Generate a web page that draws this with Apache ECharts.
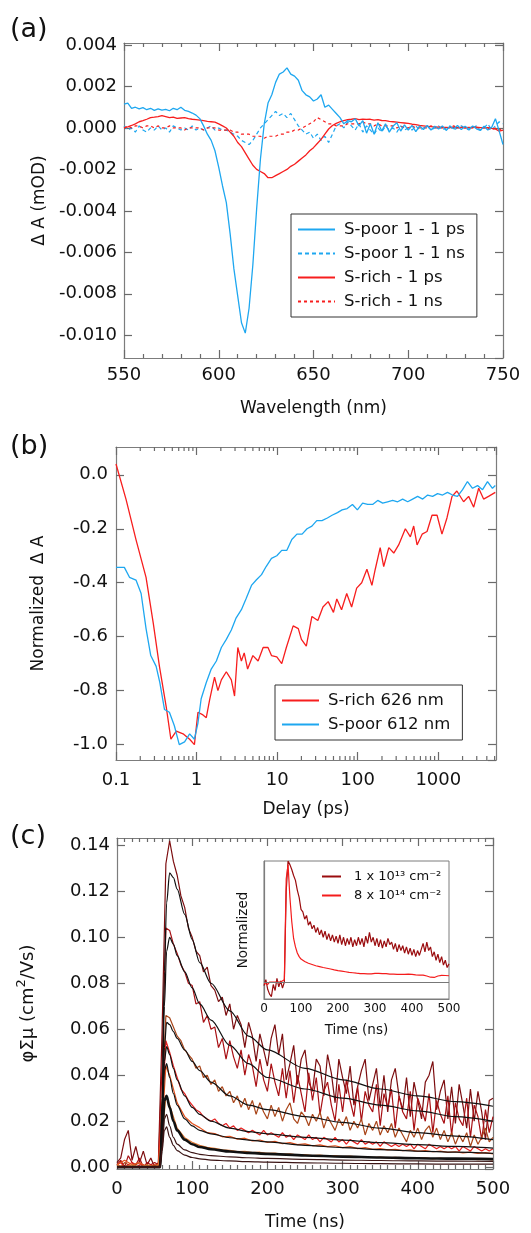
<!DOCTYPE html>
<html><head><meta charset="utf-8">
<script src="https://cdn.jsdelivr.net/npm/echarts@6/dist/echarts.min.js"></script>
<style>html,body{margin:0;padding:0;background:#fff}#chart{width:531px;height:1233px}</style>
</head><body><div id="chart"></div>
<script>
// ---------- Panel (a): transient spectra ----------
const wavelength = [550,552,554,556,558,560,562,564,566,568,
570,572,574,576,578,580,582,584,586,588,
590,592,594,596,598,600,602,604,606,608,
610,612,614,616,618,620,622,624,626,628,
630,632,634,636,638,640,642,644,646,648,
650,652,654,656,658,660,662,664,666,668,
670,672,674,676,678,680,682,684,686,688,
690,692,694,696,698,700,702,704,706,708,
710,712,714,716,718,720,722,724,726,728,
730,732,734,736,738,740,742,744,746,748,
750];
const sPoor1ps = [0.00115,0.00120,0.00095,0.00100,0.00092,0.00098,0.00088,0.00095,0.00085,0.00092,
0.00086,0.00090,0.00083,0.00095,0.00088,0.00100,0.00085,0.00080,0.00072,0.00062,
0.00045,0.00010,-0.00030,-0.00060,-0.00110,-0.00190,-0.00280,-0.00360,-0.00510,-0.00680,
-0.00810,-0.00940,-0.00990,-0.00870,-0.00660,-0.00390,-0.00150,0.00020,0.00120,0.00160,
0.00220,0.00260,0.00270,0.00290,0.00260,0.00250,0.00230,0.00180,0.00160,0.00150,
0.00130,0.00140,0.00160,0.00100,0.00110,0.00090,0.00070,0.00050,0.00020,0.00035,
0.00030,0.00045,0.00010,0.00035,-0.00025,0.00020,-0.00030,0.00025,-0.00015,0.00020,
-0.00020,0.00010,0.00025,-0.00015,0.00015,-0.00010,0.00012,-0.00018,0.00010,-0.00008,
0.00012,-0.00010,0.00008,-0.00005,0.00010,-0.00012,0.00008,-0.00004,0.00012,-0.00008,
0.00008,-0.00006,0.00010,-0.00004,-0.00012,0.00008,-0.00010,0.00002,0.00045,-0.00015,
-0.00080];
const sPoor1ns = [0.0001,-0.0001,0.0000,-0.0002,0.0001,-0.0001,-0.0002,0.0000,-0.0001,0.0001,
-0.0001,0.0000,-0.0002,0.0001,0.0000,-0.0001,0.0000,-0.0001,0.0001,-0.0001,
0.0000,-0.0001,0.0000,0.0001,-0.0001,0.0000,-0.0001,-0.0001,-0.0002,-0.0003,
-0.0004,-0.0006,-0.0007,-0.0008,-0.0006,-0.0003,0.0000,0.0002,0.0004,0.0006,
0.0008,0.0006,0.0007,0.0005,0.0007,0.0004,0.0001,-0.0001,-0.0003,-0.0002,
-0.0005,-0.0003,-0.0006,-0.0004,-0.0007,-0.0003,0.0001,0.0002,0.0000,0.0003,
0.0001,-0.0001,0.0002,-0.0002,0.0001,-0.0001,-0.0003,0.0000,-0.0002,0.0001,
-0.0001,0.0000,-0.0002,0.0001,-0.0001,0.0000,-0.0001,0.0001,-0.0001,0.0000,
0.0001,-0.0001,0.0000,0.0001,-0.0001,0.0000,0.0001,-0.0001,0.0000,0.0001,
0.0000,-0.0001,0.0000,0.0001,-0.0001,0.0000,0.0002,-0.0001,0.0001,0.0003,
0.0002];
const sRich1ps = [0.00000,0.00005,0.00012,0.00020,0.00030,0.00035,0.00042,0.00050,0.00052,0.00055,
0.00060,0.00055,0.00050,0.00052,0.00046,0.00048,0.00050,0.00045,0.00042,0.00040,
0.00038,0.00035,0.00032,0.00030,0.00028,0.00020,0.00010,0.00000,-0.00020,-0.00040,
-0.00070,-0.00090,-0.00120,-0.00150,-0.00180,-0.00200,-0.00210,-0.00220,-0.00240,-0.00240,
-0.00230,-0.00220,-0.00210,-0.00200,-0.00185,-0.00175,-0.00160,-0.00145,-0.00130,-0.00110,
-0.00095,-0.00075,-0.00055,-0.00030,-0.00005,0.00012,0.00022,0.00030,0.00035,0.00040,
0.00042,0.00045,0.00040,0.00043,0.00041,0.00042,0.00038,0.00040,0.00036,0.00035,
0.00032,0.00030,0.00028,0.00026,0.00024,0.00022,0.00018,0.00016,0.00012,0.00010,
0.00008,0.00006,0.00005,0.00004,0.00003,0.00003,0.00002,0.00003,0.00002,0.00003,
0.00001,0.00003,0.00002,0.00004,0.00002,0.00000,0.00002,-0.00002,-0.00005,-0.00015,
-0.00010];
const sRich1ns = [0.0000,0.0001,0.0000,0.0001,0.0001,0.0000,0.0001,0.0001,0.0000,0.0001,
0.0000,0.0000,0.0001,0.0000,0.0000,0.0000,-0.0001,0.0000,0.0000,0.0000,
0.0000,-0.0001,0.0000,0.0000,0.0000,-0.0001,-0.0001,-0.0001,-0.0001,-0.0002,
-0.0002,-0.0003,-0.0003,-0.0003,-0.0004,-0.0004,-0.0004,-0.0005,-0.0004,-0.0004,
-0.0004,-0.0003,-0.0003,-0.0002,-0.0002,-0.0001,-0.0001,0.0000,0.0001,0.0002,
0.0003,0.0005,0.0004,0.0003,0.0002,0.0002,0.0001,0.0001,0.0001,0.0002,
0.0002,0.0002,0.0002,0.0003,0.0002,0.0002,0.0001,0.0002,0.0001,0.0001,
0.0001,0.0001,0.0000,0.0001,0.0000,0.0000,0.0001,0.0000,0.0000,0.0000,
0.0000,0.0001,0.0000,0.0000,0.0000,0.0000,0.0000,0.0001,0.0000,0.0000,
0.0000,0.0000,0.0000,0.0000,0.0000,0.0000,0.0000,-0.0001,0.0000,-0.0001,
0.0000];

// ---------- Panel (b): kinetics ----------
const delayRich = [0.1,0.133,0.177,0.236,0.29,0.346,0.42,0.48,0.56,0.68,0.82,0.94,1.04,1.2,1.32,1.45,1.67,1.84,2.03,2.34,2.7,2.96,3.25,3.6,3.9,4.3,5.0,5.8,6.7,7.7,8.5,9.9,11.4,13,15.8,18.3,20,23,27,32,37,43,50,55,63,73,84,97,112,130,150,165,190,210,243,280,322,390,450,495,545,630,725,835,965,1110,1280,1480,1700,2060,2380,2750,3170,3650,4200,5100];
const rich626 = [0.04,-0.09,-0.24,-0.38,-0.55,-0.71,-0.86,-0.98,-0.95,-0.96,-0.98,-1.0,-0.88,-0.89,-0.90,-0.835,-0.75,-0.80,-0.76,-0.73,-0.76,-0.82,-0.64,-0.69,-0.66,-0.72,-0.67,-0.69,-0.64,-0.64,-0.67,-0.675,-0.70,-0.64,-0.56,-0.57,-0.61,-0.635,-0.525,-0.54,-0.49,-0.47,-0.51,-0.46,-0.50,-0.44,-0.49,-0.42,-0.40,-0.35,-0.41,-0.35,-0.27,-0.34,-0.27,-0.29,-0.26,-0.20,-0.23,-0.19,-0.26,-0.22,-0.21,-0.15,-0.15,-0.22,-0.16,-0.08,-0.06,-0.10,-0.08,-0.12,-0.05,-0.09,-0.08,-0.065];
const delayPoor = [0.1,0.127,0.147,0.177,0.205,0.236,0.27,0.315,0.35,0.4,0.46,0.53,0.61,0.71,0.82,0.94,1.04,1.14,1.32,1.52,1.76,2.03,2.34,2.7,3.1,3.6,4.1,4.8,5.5,6.4,7.3,8.5,9.9,11.4,13.2,15.2,17.6,20.4,23.5,27,31,36,42,48,56,64,74,86,99,115,133,153,177,204,235,271,313,361,417,480,554,640,738,850,980,1130,1300,1500,1730,2000,2300,2660,3070,3540,4080,4700,5100];
const poor612 = [-0.343,-0.343,-0.38,-0.39,-0.44,-0.57,-0.67,-0.71,-0.77,-0.87,-0.88,-0.93,-1.0,-0.99,-0.96,-0.98,-0.92,-0.83,-0.77,-0.72,-0.69,-0.64,-0.61,-0.575,-0.53,-0.50,-0.46,-0.41,-0.39,-0.37,-0.34,-0.31,-0.30,-0.28,-0.28,-0.24,-0.22,-0.22,-0.20,-0.19,-0.17,-0.17,-0.16,-0.15,-0.14,-0.13,-0.125,-0.11,-0.13,-0.105,-0.11,-0.11,-0.095,-0.105,-0.10,-0.095,-0.10,-0.09,-0.10,-0.09,-0.08,-0.09,-0.075,-0.08,-0.07,-0.075,-0.065,-0.075,-0.08,-0.055,-0.025,-0.05,-0.04,-0.055,-0.025,-0.05,-0.04];
// minor tick positions of the log axis (2..9 per decade)
const logMinorTicks = [0.2,0.3,0.4,0.5,0.6,0.7,0.8,0.9,2,3,4,5,6,7,8,9,20,30,40,50,60,70,80,90,200,300,400,500,600,700,800,900,2000,3000,4000,5000];

// ---------- Panel (c): photoconductivity ----------
const timeNs = [0,5,10,15,20,25,30,35,40,45,
50,55,60,65,70,75,80,85,90,95,
100,105,110,115,120,125,130,135,140,145,
150,155,160,165,170,175,180,185,190,195,
200,205,210,215,220,225,230,235,240,245,
250,255,260,265,270,275,280,285,290,295,
300,305,310,315,320,325,330,335,340,345,
350,355,360,365,370,375,380,385,390,395,
400,405,410,415,420,425,430,435,440,445,
450,455,460,465,470,475,480,485,490,495,
500];
const trace1 = [0.002,0.004,0.012,0.016,0.003,0.009,0.002,0.007,0.001,0.004,
0.000,0.002,0.060,0.132,0.142,0.133,0.127,0.118,0.113,0.104,
0.100,0.094,0.092,0.085,0.087,0.079,0.077,0.072,0.074,0.066,
0.071,0.060,0.066,0.062,0.052,0.063,0.057,0.046,0.058,0.051,
0.044,0.056,0.062,0.049,0.058,0.038,0.045,0.053,0.036,0.047,
0.051,0.037,0.033,0.047,0.044,0.031,0.049,0.041,0.028,0.047,
0.039,0.032,0.044,0.027,0.035,0.042,0.047,0.029,0.036,0.043,
0.026,0.040,0.024,0.038,0.043,0.031,0.025,0.039,0.022,0.037,
0.029,0.021,0.037,0.040,0.046,0.025,0.033,0.038,0.021,0.035,
0.019,0.036,0.027,0.017,0.034,0.020,0.033,0.024,0.012,0.029,
0.030];
const trace2 = [0.001,0.003,0.000,0.005,0.002,0.001,0.004,0.000,0.002,0.001,
0.002,0.001,0.045,0.104,0.103,0.097,0.093,0.088,0.085,0.080,
0.079,0.071,0.072,0.063,0.066,0.060,0.061,0.052,0.056,0.047,
0.055,0.048,0.043,0.051,0.040,0.049,0.044,0.035,0.047,0.038,
0.033,0.045,0.037,0.031,0.043,0.030,0.042,0.028,0.040,0.032,
0.024,0.041,0.029,0.039,0.023,0.033,0.037,0.027,0.020,0.036,
0.024,0.038,0.029,0.022,0.035,0.020,0.033,0.027,0.024,0.036,
0.018,0.032,0.026,0.034,0.017,0.031,0.024,0.021,0.033,0.016,
0.030,0.025,0.020,0.032,0.015,0.029,0.023,0.019,0.031,0.014,
0.028,0.021,0.018,0.030,0.013,0.027,0.022,0.012,0.025,0.015,
0.022];
const trace3 = [0.001,0.000,0.002,0.001,0.000,0.001,0.002,0.000,0.001,0.000,
0.001,0.000,0.030,0.066,0.065,0.061,0.057,0.055,0.051,0.049,
0.047,0.043,0.044,0.039,0.040,0.036,0.038,0.033,0.035,0.031,
0.033,0.028,0.031,0.026,0.030,0.025,0.029,0.023,0.028,0.024,
0.021,0.027,0.022,0.026,0.020,0.025,0.028,0.021,0.019,0.024,
0.022,0.018,0.023,0.020,0.024,0.017,0.022,0.019,0.016,0.021,
0.018,0.022,0.016,0.020,0.017,0.021,0.014,0.019,0.016,0.020,
0.014,0.018,0.015,0.019,0.013,0.017,0.014,0.011,0.016,0.013,
0.017,0.012,0.016,0.018,0.013,0.017,0.012,0.016,0.011,0.015,
0.010,0.014,0.011,0.015,0.009,0.014,0.010,0.013,0.017,0.011,
0.013];
const trace4 = [0.001,0.002,0.000,0.001,0.002,0.000,0.001,0.001,0.000,0.001,
0.000,0.001,0.025,0.055,0.050,0.044,0.039,0.034,0.032,0.029,
0.027,0.025,0.024,0.022,0.021,0.020,0.021,0.019,0.018,0.019,
0.017,0.018,0.016,0.017,0.016,0.015,0.016,0.015,0.014,0.016,
0.014,0.015,0.014,0.013,0.015,0.013,0.014,0.012,0.014,0.013,
0.012,0.014,0.012,0.013,0.011,0.013,0.012,0.011,0.013,0.011,
0.012,0.010,0.012,0.011,0.010,0.012,0.010,0.011,0.010,0.011,
0.009,0.011,0.010,0.009,0.010,0.009,0.010,0.009,0.010,0.008,
0.010,0.009,0.008,0.010,0.009,0.008,0.009,0.008,0.009,0.008,
0.009,0.007,0.009,0.008,0.007,0.009,0.008,0.007,0.008,0.007,
0.008];
const timeCoarse = [0,10,20,30,40,50,55,60,65,70,
80,90,100,110,120,130,140,150,160,170,
180,190,200,210,220,230,240,250,260,270,
280,290,300,310,320,330,340,350,360,370,
380,390,400,410,420,430,440,450,460,470,
480,490,500];
const trace5 = [0.001,0.003,0.001,0.002,0.000,0.001,0.001,0.018,0.044,0.040,
0.028,0.022,0.019,0.0172,0.0150,0.0146,0.0132,0.0134,0.0122,0.0126,
0.0114,0.0118,0.0108,0.0112,0.0102,0.0107,0.0098,0.0101,0.0093,0.0097,
0.0089,0.0093,0.0085,0.0089,0.0081,0.0085,0.0078,0.0081,0.0075,0.0078,
0.0072,0.0075,0.0069,0.0072,0.0067,0.0070,0.0064,0.0067,0.0062,0.0065,
0.0060,0.0063,0.0058];
const trace6 = [0.001,0.000,0.001,0.000,0.001,0.000,0.001,0.013,0.031,0.027,
0.017,0.0128,0.0108,0.0095,0.0086,0.0082,0.0075,0.0073,0.0068,0.0069,
0.0063,0.0065,0.0060,0.0061,0.0056,0.0058,0.0053,0.0055,0.0050,0.0052,
0.0048,0.0050,0.0046,0.0048,0.0044,0.0046,0.0042,0.0044,0.0040,0.0043,
0.0039,0.0041,0.0038,0.0040,0.0036,0.0039,0.0035,0.0037,0.0034,0.0036,
0.0033,0.0035,0.0032];
const fitTime = [0,57,60,63,66,70,75,80,90,100,110,125,150,175,200,250,300,350,400,450,500];
const fit1 = [0,0,0.030,0.085,0.115,0.128,0.126,0.121,0.110,0.099,0.089,0.080,0.068,0.057,0.051,0.043,0.038,0.034,0.031,0.0285,0.0265];
const fit2 = [0,0,0.025,0.070,0.094,0.100,0.097,0.092,0.085,0.078,0.071,0.064,0.053,0.045,0.039,0.034,0.030,0.027,0.0245,0.022,0.020];
const fit3 = [0,0,0.020,0.052,0.063,0.062,0.059,0.056,0.051,0.046,0.042,0.037,0.031,0.027,0.025,0.022,0.0195,0.017,0.015,0.0135,0.012];
const fit4 = [0,0,0.018,0.046,0.0525,0.049,0.043,0.038,0.031,0.026,0.023,0.020,0.017,0.0155,0.0145,0.013,0.0118,0.0107,0.0098,0.009,0.0083];
const fit5 = [0,0,0.016,0.042,0.045,0.039,0.032,0.027,0.021,0.018,0.016,0.0145,0.0128,0.0118,0.011,0.0095,0.0085,0.0076,0.0070,0.0065,0.0060];
const fit6 = [0,0,0.012,0.029,0.031,0.026,0.020,0.016,0.012,0.010,0.0088,0.0078,0.0068,0.0062,0.0058,0.0051,0.0046,0.0042,0.0039,0.0037,0.0035];
const fit7 = [0,0,0.009,0.021,0.023,0.018,0.013,0.010,0.0075,0.0063,0.0056,0.0050,0.0045,0.0041,0.0038,0.0034,0.0031,0.0029,0.0027,0.0026,0.0025];
const fit8 = [0,0,0.007,0.016,0.0175,0.013,0.0095,0.0072,0.0052,0.0042,0.0036,0.0031,0.0027,0.0024,0.0022,0.0019,0.0017,0.0015,0.0014,0.0013,0.0013];

// inset (normalized)
const insetLow = [-0.03,0.02,-0.06,-0.10,-0.12,-0.02,-0.07,0.03,-0.04,0.01,
-0.05,0.00,0.75,1.00,0.97,0.93,0.88,0.84,0.76,0.70,
0.60,0.58,0.52,0.55,0.47,0.50,0.44,0.47,0.41,0.45,
0.39,0.43,0.37,0.42,0.35,0.40,0.34,0.39,0.33,0.38,
0.32,0.39,0.31,0.37,0.30,0.36,0.31,0.37,0.29,0.35,
0.30,0.37,0.31,0.36,0.29,0.38,0.32,0.41,0.33,0.37,
0.30,0.36,0.29,0.35,0.28,0.34,0.29,0.36,0.31,0.33,
0.27,0.32,0.25,0.31,0.26,0.30,0.24,0.29,0.23,0.28,
0.22,0.27,0.21,0.26,0.22,0.27,0.32,0.25,0.33,0.26,
0.29,0.21,0.25,0.18,0.23,0.16,0.21,0.14,0.18,0.12,
0.15];
const insetHigh = [-0.01,0.00,-0.02,0.00,-0.01,0.00,-0.01,0.00,-0.01,0.00,
-0.01,0.02,0.85,0.97,0.70,0.50,0.36,0.29,0.24,0.21,
0.19,0.18,0.17,0.16,0.155,0.15,0.145,0.14,0.135,0.13,
0.128,0.124,0.12,0.118,0.114,0.11,0.108,0.104,0.10,0.098,
0.094,0.092,0.09,0.087,0.085,0.083,0.08,0.079,0.077,0.074,
0.073,0.071,0.07,0.068,0.069,0.066,0.068,0.065,0.067,0.069,
0.071,0.068,0.072,0.069,0.07,0.068,0.07,0.067,0.066,0.068,
0.065,0.066,0.064,0.066,0.063,0.065,0.064,0.062,0.065,0.063,
0.064,0.062,0.06,0.061,0.058,0.06,0.057,0.055,0.05,0.045,
0.04,0.036,0.038,0.045,0.05,0.053,0.055,0.052,0.054,0.05,
0.052];

const AX = '#7c7c7c';
const TK = '#6a6a6a';
const FONT = '"DejaVu Sans", Verdana, sans-serif';
const BLUE = '#1ea7f0', RED = '#f71e1e';
const zip = (xs, ys) => xs.map((x, i) => [x, ys[i]]);
const fmt = d => v => (Math.abs(v) < 1e-12 ? (0).toFixed(d) : v.toFixed(d));
const fmtLog = v => String(+(+v).toPrecision(4));

function mkAxis(p) {
  const a = {
    gridIndex: p.grid, position: p.pos, type: p.type || 'value',
    min: p.min, max: p.max,
    axisLine: {show: true, onZero: false, lineStyle: {color: AX, width: 1.2}},
    axisTick: {show: p.tick !== false, inside: true, length: 8, lineStyle: {color: TK, width: 1.2}},
    minorTick: {show: !!p.minor, splitNumber: p.minor || 5, length: 4, lineStyle: {color: TK, width: 1.2}},
    splitLine: {show: false}, minorSplitLine: {show: false},
    axisLabel: Object.assign({show: !!p.labels, color: '#111', fontFamily: FONT, fontSize: 18, margin: 8,
      showMinLabel: true, showMaxLabel: true}, p.label || {}),
    nameLocation: 'middle', name: p.name || '', nameGap: p.nameGap || 0,
    nameTextStyle: Object.assign({color: '#111', fontFamily: FONT, fontSize: 17}, p.nameStyle || {})
  };
  if (p.interval != null) a.interval = p.interval;
  if (p.splitNumber != null) a.splitNumber = p.splitNumber;
  if (p.logBase) a.logBase = p.logBase;
  return a;
}

const xAxes = [
  mkAxis({grid: 0, pos: 'bottom', min: 550, max: 750, interval: 50, minor: 5, labels: true, label: {margin: 8}, name: 'Wavelength (nm)', nameGap: 42}),
  mkAxis({grid: 0, pos: 'top', min: 550, max: 750, interval: 50, minor: 5}),
  mkAxis({grid: 1, pos: 'bottom', type: 'log', logBase: 10, min: 0.1, max: 5200, labels: true, label: {margin: 11, showMaxLabel: false, formatter: fmtLog}, name: 'Delay (ps)', nameGap: 41}),
  mkAxis({grid: 1, pos: 'top', type: 'log', logBase: 10, min: 0.1, max: 5200}),
  mkAxis({grid: 2, pos: 'bottom', min: 0, max: 500, interval: 100, minor: 10, labels: true, label: {margin: 11}, name: 'Time (ns)', nameGap: 45}),
  mkAxis({grid: 2, pos: 'top', min: 0, max: 500, interval: 100, minor: 10}),
  mkAxis({grid: 3, pos: 'bottom', min: 0, max: 500, interval: 100, tick: false, labels: true, label: {fontSize: 12, margin: 4}, name: 'Time (ns)', nameGap: 24, nameStyle: {fontSize: 13.5}})
];
const yAxes = [
  mkAxis({grid: 0, pos: 'left', min: -0.0111, max: 0.0041, splitNumber: 7, labels: true, label: {margin: 7, showMinLabel: false, showMaxLabel: false, formatter: fmt(3)}, name: 'Δ A (mOD)', nameGap: 74}),
  mkAxis({grid: 0, pos: 'right', min: -0.0111, max: 0.0041, splitNumber: 7}),
  mkAxis({grid: 1, pos: 'left', min: -1.057, max: 0.103, splitNumber: 6, labels: true, label: {margin: 8, showMinLabel: false, showMaxLabel: false, formatter: fmt(1)}, name: 'Normalized  Δ A', nameGap: 69}),
  mkAxis({grid: 1, pos: 'right', min: -1.057, max: 0.103, splitNumber: 6}),
  mkAxis({grid: 2, pos: 'left', min: -0.0008, max: 0.1432, splitNumber: 7, labels: true, label: {margin: 7, showMinLabel: false, showMaxLabel: false, formatter: fmt(2)},
    name: 'φΣμ (cm{sup|2}/Vs)', nameGap: 76, nameStyle: {fontSize: 18, lineHeight: 26, rich: {sup: {fontSize: 13, lineHeight: 13, verticalAlign: 'top', fontFamily: FONT, color: '#111'}}}}),
  mkAxis({grid: 2, pos: 'right', min: -0.0008, max: 0.1432, splitNumber: 7}),
  mkAxis({grid: 3, pos: 'left', min: -0.14, max: 1.0, tick: false, labels: false, name: 'Normalized', nameGap: 14, nameStyle: {fontSize: 13.5}})
];

function line(name, xi, yi, data, color, width, dash, z) {
  return {name, type: 'line', xAxisIndex: xi, yAxisIndex: yi, data, symbol: 'none', showSymbol: false,
    lineStyle: {color, width, type: dash || 'solid'}, itemStyle: {color}, z: z || 2, silent: true, animation: false};
}
function fit(name, data, width, color) {
  const s = line(name, 4, 4, zip(fitTime, data), color || '#111', width, null, 5);
  s.smooth = 0.3; s.smoothMonotone = 'x';
  return s;
}
// minor ticks of the log axis, positioned through the axis scale (bottom and top edges)
function logMinorSeries() {
  return {
    type: 'custom', xAxisIndex: 2, yAxisIndex: 2, silent: true, z: 10, animation: false, clip: false,
    data: logMinorTicks.map(v => [v]),
    renderItem: function (params, api) {
      const lo = api.coord([api.value(0), -1.057]);
      const hi = api.coord([api.value(0), 0.103]);
      const st = {stroke: TK, lineWidth: 1.2};
      return {type: 'group', children: [
        {type: 'line', shape: {x1: lo[0], y1: lo[1], x2: lo[0], y2: lo[1] - 4}, style: st},
        {type: 'line', shape: {x1: hi[0], y1: hi[1], x2: hi[0], y2: hi[1] + 4}, style: st}
      ]};
    },
    encode: {x: 0}
  };
}

const series = [
  line('S-poor 1 - 1 ns', 0, 0, zip(wavelength, sPoor1ns), BLUE, 1.2, [4, 3]),
  line('S-rich - 1 ns', 0, 0, zip(wavelength, sRich1ns), RED, 1.2, [3, 3]),
  line('S-rich - 1 ps', 0, 0, zip(wavelength, sRich1ps), RED, 1.3),
  line('S-poor 1 - 1 ps', 0, 0, zip(wavelength, sPoor1ps), BLUE, 1.3),

  line('S-rich 626 nm', 2, 2, zip(delayRich, rich626), RED, 1.3),
  line('S-poor 612 nm', 2, 2, zip(delayPoor, poor612), BLUE, 1.3),
  logMinorSeries(),

  line('trace1', 4, 4, zip(timeNs, trace1), '#7c0d0f', 1.2),
  line('trace2', 4, 4, zip(timeNs, trace2), '#a81014', 1.2),
  line('trace3', 4, 4, zip(timeNs, trace3), '#a9461a', 1.2),
  line('trace4', 4, 4, zip(timeNs, trace4), '#e6201f', 1.2),
  line('trace5', 4, 4, zip(timeCoarse, trace5), '#e2501c', 1.2),
  line('trace6', 4, 4, zip(timeCoarse, trace6), '#e47a34', 1.2),
  fit('fit1', fit1, 1.2), fit('fit2', fit2, 1.2), fit('fit3', fit3, 1.2), fit('fit4', fit4, 1.2),
  fit('fit5', fit5, 1.2), fit('fit6', fit6, 2.6), fit('fit7', fit7, 1.2, '#3a1414'), fit('fit8', fit8, 1.2, '#3a1414'),

  Object.assign(line('1 x 10¹³ cm⁻²', 6, 6, zip(timeNs, insetLow), '#9a0c0e', 1.2), {
    markLine: {silent: true, symbol: 'none', animation: false, label: {show: false},
      lineStyle: {color: '#777', width: 1, type: 'solid'}, data: [{yAxis: 0}]}}),
  line('8 x 10¹⁴ cm⁻²', 6, 6, zip(timeNs, insetHigh), '#f41c1c', 1.2)
];

const titleStyle = {fontFamily: FONT, fontSize: 27, fontWeight: 'normal', color: '#111'};
const legendCommon = {orient: 'vertical', selectedMode: false, itemStyle: {opacity: 0, borderWidth: 0}};
const option = {
  animation: false,
  backgroundColor: '#fff',
  title: [
    {text: '(a)', left: 10, top: 16, padding: 0, textStyle: titleStyle},
    {text: '(b)', left: 10, top: 433, padding: 0, textStyle: titleStyle},
    {text: '(c)', left: 10, top: 823, padding: 0, textStyle: titleStyle}
  ],
  grid: [
    {left: 124, top: 43, width: 379, height: 315},
    {left: 116, top: 447, width: 380, height: 313},
    {left: 117, top: 838, width: 376, height: 331},
    {left: 264, top: 861, width: 185, height: 138, show: true, borderColor: AX, borderWidth: 1, backgroundColor: 'rgba(0,0,0,0)'}
  ],
  legend: [
    Object.assign({data: ['S-poor 1 - 1 ps', 'S-poor 1 - 1 ns', 'S-rich - 1 ps', 'S-rich - 1 ns'],
      left: 291, top: 214, padding: [7, 12, 7, 6], itemWidth: 37, itemHeight: 14, itemGap: 7,
      borderColor: '#333', borderWidth: 1, backgroundColor: '#fff',
      textStyle: {fontFamily: FONT, fontSize: 16.5, color: '#111', padding: [0, 0, 0, 4]}}, legendCommon),
    Object.assign({data: ['S-rich 626 nm', 'S-poor 612 nm'],
      left: 275, top: 685, padding: [7, 12, 7, 6], itemWidth: 37, itemHeight: 14, itemGap: 7,
      borderColor: '#333', borderWidth: 1, backgroundColor: '#fff',
      textStyle: {fontFamily: FONT, fontSize: 16.5, color: '#111', padding: [0, 0, 0, 4]}}, legendCommon),
    Object.assign({data: ['1 x 10¹³ cm⁻²', '8 x 10¹⁴ cm⁻²'],
      left: 321, top: 870, padding: 0, itemWidth: 19, itemHeight: 12, itemGap: 6,
      textStyle: {fontFamily: FONT, fontSize: 13, color: '#111', padding: [0, 0, 0, 8]}}, legendCommon)
  ],
  xAxis: xAxes,
  yAxis: yAxes,
  series
};
const chart = echarts.init(document.getElementById('chart'), null, {renderer: 'canvas'});
chart.setOption(option);
</script>
</body></html>
